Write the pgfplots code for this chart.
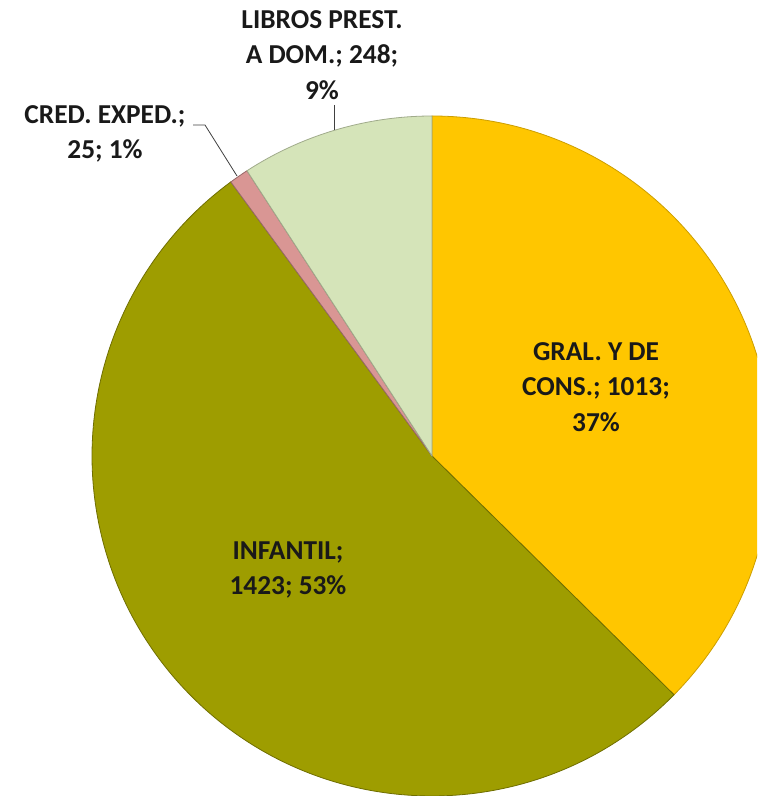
\documentclass[border=0pt]{standalone}
\usepackage{pgfplots}
\pgfplotsset{compat=1.18}
\usepackage{pgfplotstable}
\usepackage{fontspec}
\setmainfont{Carlito}

\definecolor{cGral}{RGB}{255,198,0}
\definecolor{cInf}{RGB}{158,157,0}
\definecolor{cCred}{RGB}{217,150,148}
\definecolor{cLib}{RGB}{213,228,185}
\definecolor{cTxt}{RGB}{25,25,25}

% valores por sector (sentido horario desde las 12)
\pgfplotstableread{
value
1013
1423
25
248
}\piedata

\begin{document}
\begin{tikzpicture}
\pgfplotstablegetelem{0}{value}\of\piedata \let\va\pgfplotsretval
\pgfplotstablegetelem{1}{value}\of\piedata \let\vb\pgfplotsretval
\pgfplotstablegetelem{2}{value}\of\piedata \let\vc\pgfplotsretval
\pgfplotstablegetelem{3}{value}\of\piedata \let\vd\pgfplotsretval
\pgfmathsetmacro\tot{\va+\vb+\vc+\vd}
\pgfmathsetmacro\aA{90}
\pgfmathsetmacro\aB{\aA-360*(\va/\tot)}
\pgfmathsetmacro\aC{\aB-360*(\vb/\tot)}
\pgfmathsetmacro\aD{\aC-360*(\vc/\tot)}
\pgfmathsetmacro\aE{\aD-360*(\vd/\tot)}
\def\R{255pt}
\begin{axis}[
    name=ax,
    x=0.75pt, y=0.75pt,
    xmin=0, xmax=757,
    ymin=0, ymax=796,
    hide axis,
    clip=true,
]
\fill[cGral, draw=cGral!80!black, line width=0.6pt]
    (axis cs:432,340) -- ++(\aA:\R) arc[start angle=\aA, end angle=\aB, radius=\R] -- cycle;
\fill[cInf, draw=cInf!70!black, line width=0.6pt]
    (axis cs:432,340) -- ++(\aB:\R) arc[start angle=\aB, end angle=\aC, radius=\R] -- cycle;
\fill[cCred, draw=cCred!70!black, line width=0.6pt]
    (axis cs:432,340) -- ++(\aC:\R) arc[start angle=\aC, end angle=\aD, radius=\R] -- cycle;
\fill[cLib, draw=cLib!75!black, line width=0.6pt]
    (axis cs:432,340) -- ++(\aD:\R) arc[start angle=\aD, end angle=\aE, radius=\R] -- cycle;

% lineas guia
\draw[black!75, line width=0.6pt] (axis cs:334,691) -- (axis cs:334,666);
\draw[black!75, line width=0.6pt] (axis cs:193,671) -- (axis cs:205,671) -- (axis cs:237,620);

\tikzset{lbl/.style={align=center, inner sep=0pt, text=cTxt,
    font=\bfseries\fontsize{20.5}{26.5}\selectfont}}
\node[lbl] at (axis cs:322,741) {LIBROS PREST.\\A DOM.; 248;\\9\%};
\node[lbl] at (axis cs:105,662) {CRED. EXPED.;\\25; 1\%};
\node[lbl] at (axis cs:596,409) {GRAL. Y DE\\CONS.; 1013;\\37\%};
\node[lbl] at (axis cs:288,226) {INFANTIL;\\1423; 53\%};
\end{axis}
\pgfresetboundingbox
\path[use as bounding box] (ax.south west) rectangle (ax.north east);
\end{tikzpicture}
\end{document}
